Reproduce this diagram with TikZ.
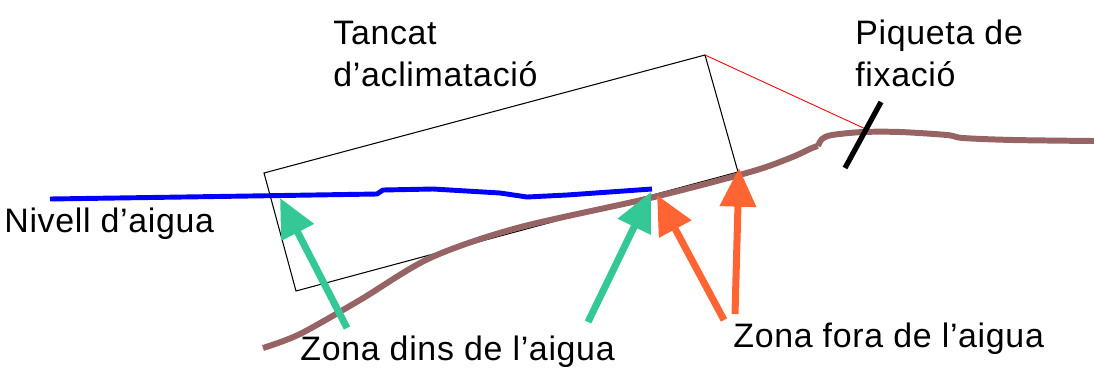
\documentclass[tikz,border=0pt]{standalone}
\usepackage{fontspec}
\setmainfont[LetterSpace=2]{Liberation Sans}
\usetikzlibrary{arrows.meta, positioning}

\begin{document}
\begin{tikzpicture}[
    x=0.02cm, y=-0.02cm,
    lbl/.style={anchor=base west, inner sep=0pt, align=left, font=\fontsize{19.3}{23.5}\selectfont},
    zarrow/.style={line width=4pt, -{Triangle[length=22pt, width=20pt]}},
    inside/.style={zarrow, draw={rgb,255:red,52;green,200;blue,150}},
    outside/.style={zarrow, draw={rgb,255:red,255;green,100;blue,50}, fill={rgb,255:red,255;green,100;blue,50}},
    ground/.style={line width=3.4pt, draw={rgb,255:red,150;green,100;blue,100}, line join=round},
    water/.style={line width=2.8pt, draw=blue, line join=round}
]
\useasboundingbox (0,0) rectangle (1094,369);

% enclosure
\coordinate (tl) at (264,173);
\coordinate (tr) at (705,55);
\coordinate (br) at (738,172);
\coordinate (bl) at (296,291);
\draw[line width=0.6pt] (tl) -- (tr) -- (br) -- (bl) -- cycle;

% stake and rope
\coordinate (stakeA) at (845,168);
\coordinate (stakeB) at (881,102);
\coordinate (knot) at (870,131);
\draw[red, line width=0.5pt] (tr) -- (knot);

% ground
\draw[ground] plot[smooth, tension=0.5] coordinates {(263,348) (300,334) (360,300) (430,258) (517,228) (650,198) (750,172) (790,158) (812,148) (818,146)};
\draw[ground] plot[smooth, tension=0.5] coordinates {(818,146) (822,139) (832,135) (863,132) (900,132) (947,135) (963,138) (1013,140) (1094,141)};
\draw[line width=3pt] (stakeA) -- (stakeB);

% water level
\draw[water] (50,199) -- (250,196) -- (377,194) -- (383,190) -- (433,189) -- (500,193) -- (527,197) -- (567,195) -- (652,189);

% labels
\node[lbl] (tancat) at (333,86) {Tancat\\d’aclimatació};
\node[lbl] (piqueta) at (855,86) {Piqueta de\\fixació};
\node[lbl] (nivell) at (4,232) {Nivell d’aigua};
\node[lbl] (dins) at (300,360) {Zona dins de l’aigua};
\node[lbl] (fora) at (733,347) {Zona fora de l’aigua};

% arrows
\coordinate (d1) at (347,328);
\coordinate (d1tip) at (280,198);
\coordinate (d2) at (588,322);
\coordinate (d2tip) at (651,192);
\coordinate (f1) at (724,320);
\coordinate (f1tip) at (657,195);
\coordinate (f2) at (735,314);
\coordinate (f2tip) at (739,168);
\draw[inside, fill={rgb,255:red,52;green,200;blue,150}] (d1) -- (d1tip);
\draw[inside, fill={rgb,255:red,52;green,200;blue,150}] (d2) -- (d2tip);
\draw[outside] (f1) -- (f1tip);
\draw[outside] (f2) -- (f2tip);
\end{tikzpicture}
\end{document}
